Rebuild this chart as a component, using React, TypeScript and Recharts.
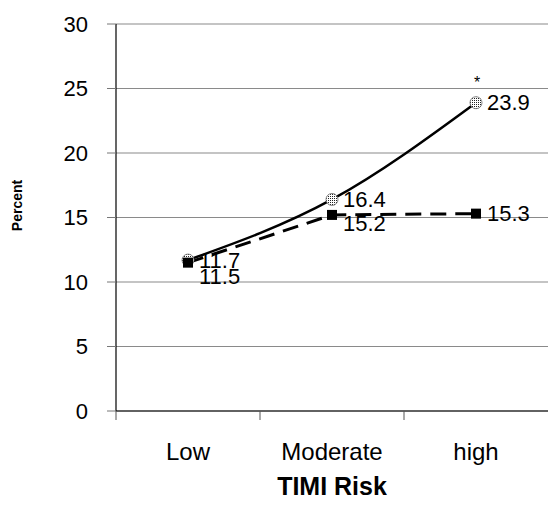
import { LineChart, Line, XAxis, YAxis, CartesianGrid, LabelList } from "recharts";

const riskLevels = ["Low", "Moderate", "high"];
const solidSeries = [11.7, 16.4, 23.9];
const dashedSeries = [11.5, 15.2, 15.3];
const significance = ["", "", "*"];
const yTicks = [0, 5, 10, 15, 20, 25, 30];

const data = riskLevels.map((risk, i) => ({
  risk,
  solid: solidSeries[i],
  dashed: dashedSeries[i],
  sig: significance[i],
}));

const FONT = '"Liberation Sans", Arial, Helvetica, sans-serif';

// label nudges for the dashed series (below / right)
const dashedLabelDy = [14, 9, 0];

function HatchedDot(props: any) {
  const { cx, cy } = props;
  if (cx == null || cy == null) return null;
  return <circle cx={cx} cy={cy} r={6} fill="url(#dots)" stroke="#666" strokeWidth={0.8} />;
}

function SquareDot(props: any) {
  const { cx, cy } = props;
  if (cx == null || cy == null) return null;
  return <rect x={cx - 5} y={cy - 5} width={10} height={10} fill="#000" />;
}

// category label in the middle of the band, tick mark on the band's left edge
function BandTick(props: any) {
  const { x, y, payload } = props;
  const edge = x - (payload.offset || 0);
  return (
    <g>
      <line x1={edge} y1={y} x2={edge} y2={y + 9} stroke="#555" strokeWidth={1} />
      <text x={x} y={y + 32} dy="0.71em" textAnchor="middle" fontSize={24} fontFamily={FONT} fill="#000">
        {payload.value}
      </text>
    </g>
  );
}

function solidLabel(props: any) {
  const { x, y, value } = props;
  return (
    <text x={x + 11} y={y} dominantBaseline="central" fontSize={22} fontFamily={FONT} fill="#000">
      {value}
    </text>
  );
}

function dashedLabel(props: any) {
  const { x, y, value, index } = props;
  return (
    <text
      x={x + 11}
      y={y + dashedLabelDy[index]}
      dominantBaseline="central"
      fontSize={22}
      fontFamily={FONT}
      fill="#000"
    >
      {value}
    </text>
  );
}

function sigLabel(props: any) {
  const { x, y, value } = props;
  if (!value) return null;
  return (
    <text x={x + 1} y={y - 15} textAnchor="middle" fontSize={16} fontFamily={FONT} fill="#000">
      {value}
    </text>
  );
}

export default function App() {
  return (
    <div style={{ position: "fixed", left: 0, top: 0, background: "#fff" }}>
      <LineChart width={548} height={507} data={data} margin={{ top: 24, right: 0, left: 0, bottom: 0 }}>
        <defs>
          <pattern id="dots" width="2" height="2" patternUnits="userSpaceOnUse">
            <rect width="2" height="2" fill="#fff" />
            <rect width="1" height="1" fill="#222" />
          </pattern>
        </defs>
        <CartesianGrid vertical={false} stroke="#8a8a8a" strokeWidth={1.2} />
        <XAxis
          dataKey="risk"
          scale="band"
          height={96}
          axisLine={{ stroke: "#000", strokeWidth: 1.2 }}
          tickLine={false}
          tickSize={0}
          tickMargin={0}
          tick={<BandTick />}
          label={{
            value: "TIMI Risk",
            position: "insideBottom",
            offset: 12,
            style: { fontSize: 25, fontWeight: 700, fontFamily: FONT, fill: "#000" },
          }}
        />
        <YAxis
          domain={[0, 30]}
          ticks={yTicks}
          width={116}
          tickSize={9}
          tickMargin={19}
          axisLine={{ stroke: "#000", strokeWidth: 1.2 }}
          tickLine={{ stroke: "#777" }}
          tick={{ fontSize: 22, fontFamily: FONT, fill: "#000" }}
          label={(p: any) => {
            const vb = p.viewBox;
            const cx = 17;
            const cy = vb.y + vb.height / 2 - 12;
            return (
              <text
                x={cx}
                y={cy}
                transform={`rotate(-90, ${cx}, ${cy})`}
                textAnchor="middle"
                dominantBaseline="central"
                fontSize={14}
                fontWeight={700}
                fontFamily={FONT}
                fill="#000"
              >
                Percent
              </text>
            );
          }}
        />
        <Line
          type="monotone"
          dataKey="solid"
          stroke="#000"
          strokeWidth={2.5}
          dot={<HatchedDot />}
          activeDot={false}
          isAnimationActive={false}
        >
          <LabelList dataKey="solid" content={solidLabel} />
          <LabelList dataKey="sig" content={sigLabel} />
        </Line>
        <Line
          type="linear"
          dataKey="dashed"
          stroke="#000"
          strokeWidth={3}
          strokeDasharray="16 9"
          dot={<SquareDot />}
          activeDot={false}
          isAnimationActive={false}
        >
          <LabelList dataKey="dashed" content={dashedLabel} />
        </Line>
      </LineChart>
    </div>
  );
}
